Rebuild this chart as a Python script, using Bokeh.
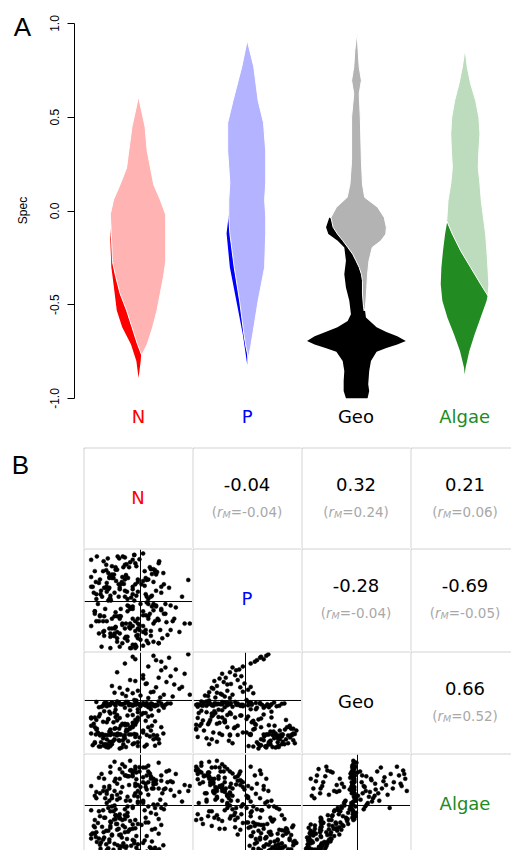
import math
from bokeh.plotting import figure
from bokeh.layouts import column, row
from bokeh.models import Range1d, FixedTicker, PrintfTickFormatter, Span, ColumnDataSource
from bokeh.core.properties import value
from bokeh.embed import file_html
from bokeh.resources import INLINE

# ---------------- data ----------------
variables = ["N", "P", "Geo", "Algae"]
y_ticks = [-1.0, -0.5, 0.0, 0.5, 1.0]
y_label = "Spec"

# violin outlines (density shapes): y level and horizontal offset from the category centre
n_light_y = [0.61, 0.45, 0.32, 0.23, 0.14, 0.06, -0.02, -0.12, -0.27, -0.35, -0.44, -0.53, -0.62, -0.71, -0.77,
             -0.71, -0.62, -0.53, -0.44, -0.35, -0.27, -0.12, -0.02, 0.06, 0.14, 0.23, 0.32, 0.45]
n_light_dx = [0.00, -0.06, -0.09, -0.11, -0.17, -0.23, -0.26, -0.25, -0.24, -0.21, -0.17, -0.11, -0.06, -0.01, 0.03,
              0.08, 0.13, 0.17, 0.20, 0.23, 0.25, 0.25, 0.25, 0.20, 0.14, 0.11, 0.08, 0.06]
n_dark_y = [-0.06, -0.15, -0.30, -0.39, -0.53, -0.62, -0.71, -0.80, -0.89, -0.80, -0.71, -0.62, -0.53, -0.39, -0.30, -0.15]
n_dark_dx = [-0.25, -0.26, -0.25, -0.23, -0.20, -0.15, -0.07, -0.02, 0.00, 0.02, 0.03, 0.00, -0.05, -0.10, -0.15, -0.20]

p_light_y = [0.91, 0.77, 0.59, 0.47, 0.32, 0.15, 0.06, -0.03, -0.12, -0.30, -0.48, -0.66, -0.73, -0.78,
             -0.73, -0.66, -0.48, -0.30, -0.12, -0.03, 0.06, 0.15, 0.32, 0.47, 0.59, 0.77]
p_light_dx = [0.00, -0.05, -0.13, -0.18, -0.18, -0.16, -0.17, -0.17, -0.16, -0.12, -0.07, -0.03, -0.01, 0.01,
              0.03, 0.05, 0.10, 0.16, 0.17, 0.17, 0.16, 0.17, 0.17, 0.15, 0.10, 0.06]
p_dark_y = [-0.02, -0.12, -0.30, -0.48, -0.66, -0.82, -0.66, -0.48, -0.30, -0.12]
p_dark_dx = [-0.17, -0.19, -0.16, -0.10, -0.04, 0.00, 0.00, -0.03, -0.08, -0.12]

geo_light_y = [0.955, 0.857, 0.768, 0.696, 0.625, 0.50, 0.27, 0.144, 0.073, 0.02, -0.034, -0.087, -0.123, -0.159,
               -0.194, -0.23, -0.265, -0.301, -0.337, -0.372, -0.443, -0.515, -0.533,
               -0.515, -0.479, -0.408, -0.337, -0.265, -0.194, -0.159, -0.123, -0.087, -0.034, 0.02, 0.073,
               0.144, 0.27, 0.50, 0.625, 0.696, 0.768, 0.857]
geo_light_dx = [0.01, -0.01, -0.02, -0.04, -0.02, -0.04, -0.04, -0.055, -0.08, -0.18, -0.23, -0.21, -0.17, -0.12,
                -0.075, -0.03, 0.0, 0.03, 0.05, 0.06, 0.06, 0.07, 0.076,
                0.085, 0.092, 0.10, 0.107, 0.12, 0.15, 0.23, 0.275, 0.28, 0.26, 0.20, 0.08,
                0.06, 0.05, 0.04, 0.03, 0.05, 0.03, 0.02]
geo_dark_y = [-0.034, -0.087, -0.123, -0.159, -0.194, -0.265, -0.337, -0.408, -0.479, -0.55, -0.586, -0.62,
              -0.645, -0.668, -0.693, -0.712, -0.73, -0.75, -0.80, -0.853, -0.906, -0.96, -0.999,
              -0.999, -0.96, -0.924, -0.853, -0.80, -0.75, -0.73, -0.712, -0.693, -0.668, -0.645, -0.62,
              -0.568, -0.515, -0.443, -0.372, -0.30, -0.23, -0.159, -0.123, -0.087]
geo_dark_dx = [-0.245, -0.275, -0.254, -0.168, -0.107, -0.092, -0.107, -0.092, -0.061, -0.046, -0.076, -0.17,
               -0.28, -0.38, -0.45, -0.38, -0.28, -0.18, -0.122, -0.107, -0.113, -0.113, -0.092,
               0.107, 0.122, 0.113, 0.122, 0.138, 0.19, 0.28, 0.38, 0.459, 0.38, 0.28, 0.19,
               0.092, 0.08, 0.08, 0.08, 0.07, 0.05, 0.0, -0.05, -0.10]

algae_light_y = [0.866, 0.768, 0.679, 0.589, 0.50, 0.411, 0.322, 0.233, 0.144, 0.055, -0.052, -0.123, -0.212,
                 -0.301, -0.39, -0.452,
                 -0.39, -0.301, -0.212, -0.123, -0.052, 0.055, 0.144, 0.233, 0.322, 0.411, 0.50, 0.589, 0.679, 0.768]
algae_light_dx = [0.003, -0.021, -0.052, -0.092, -0.119, -0.128, -0.122, -0.113, -0.128, -0.153, -0.165, -0.113,
                  -0.037, 0.055, 0.147, 0.214,
                  0.223, 0.214, 0.205, 0.193, 0.177, 0.153, 0.141, 0.125, 0.131, 0.141, 0.131, 0.101, 0.055, 0.024]
algae_dark_y = [-0.052, -0.123, -0.212, -0.301, -0.39, -0.479, -0.568, -0.657, -0.746, -0.835, -0.871,
                -0.835, -0.746, -0.657, -0.568, -0.479, -0.443, -0.39, -0.301, -0.212, -0.123]
algae_dark_dx = [-0.159, -0.18, -0.199, -0.214, -0.22, -0.205, -0.159, -0.098, -0.043, -0.006, 0.0,
                 0.009, 0.043, 0.092, 0.147, 0.202, 0.214, 0.18, 0.10, 0.0, -0.10]

# observations (one entry per sample, same order in every list)
n_vals = [-0.55, -0.78, -0.30, -0.62, -0.85, -0.12, -0.47, 0.25, -0.70, -0.20,
          -0.38, -0.88, 0.05, -0.58, -0.26, -0.66, 0.32, -0.41, -0.05, -0.74,
          -0.51, -0.15, -0.92, 0.18, -0.34, -0.60, -0.08, 0.36, -0.45, -0.80,
          -0.65, -0.28, -0.50, 0.12, -0.72, -0.18, -0.40, 0.22, -0.86, -0.33,
          -0.57, -0.10, -0.68, -0.24, 0.40, -0.44, 0.28, -0.76, -0.02, -0.95,
          -0.35, 0.12, -0.60, -0.05, 0.28, -0.42, -0.18, 0.40, -0.72, 0.05,
          -0.25, -0.50, 0.18, -0.10, -0.65, 0.33, -0.30, -0.02, -0.80, 0.22,
          -0.45, 0.08, -0.15, 0.52, -0.38, -0.55, 0.15, -0.22, 0.00, -0.68,
          0.30, -0.40, -0.08, 0.45, -0.28, 0.10, -0.58, 0.25, -0.12, -0.48,
          -0.70, -0.15, -0.45, 0.20, -0.88, -0.30, 0.05, -0.62, -0.20, -0.52,
          0.15, -0.78, -0.38, -0.05, -0.95, 0.28, -0.48, -0.25, -0.10, -0.58,
          0.25, 0.55, -0.10, 0.40, 0.92, -0.30, 0.15, 0.68, -0.45, 0.05,
          0.35, -0.20, 0.50, 0.10, -0.55, 0.30, 0.75, -0.05, 0.20, -0.35,
          0.45, 0.00, 0.62, -0.25, 0.12, 0.85, -0.15, 0.38,
          -0.60, -0.25, -0.85, -0.10, -0.45, 0.15, -0.70, -0.35, -0.95, -0.05, -0.50, -0.20, 0.10, -0.78,
          -0.42, -0.63, 0.08, -0.82, -0.27, -0.55, 0.30, -0.90, -0.12, -0.36,
          -0.71, 0.20, -0.48, -0.05, -0.60, -0.22, 0.44, -0.77, -0.32, -0.52,
          -0.15, -0.84, 0.12, -0.40, -0.66, 0.35, -0.28, -0.58, -0.08, -0.95,
          0.20, -0.58, -0.10, 0.42, -0.35, -0.75, 0.05, -0.22, -0.48, 0.35,
          -0.65, -0.02, 0.58, -0.30, -0.15, -0.85, 0.10, -0.40, 0.25, -0.55,
          -0.20, 0.15, -0.70, -0.08, 0.48,
          -0.50, 0.10, -0.80, -0.30, 0.35, -0.62, -0.15, 0.02, -0.88, -0.40, -0.05, -0.72, 0.22, -0.25, -0.60,
          -0.15, 0.48, 0.05, 0.65, -0.40, 0.25, 0.95, -0.28, 0.40, -0.10, 0.15, 0.58, -0.50, 0.80, 0.30,
          -0.30, -0.65, 0.05, -0.88, -0.15, -0.48, 0.25, -0.58, -0.05, -0.40]
p_vals = [0.72, 0.45, 0.90, 0.58, 0.15, 0.95, 0.42, 0.66, 0.28, 0.80,
          0.35, 0.62, 0.98, 0.52, 0.20, 0.75, 0.60, 0.88, 0.40, 0.10,
          0.55, 0.85, 0.30, 0.70, 0.92, 0.48, 0.12, 0.82, 0.65, 0.38,
          0.30, 0.52, 0.18, 0.44, 0.62, 0.08, 0.25, 0.56, 0.40, 0.70,
          0.02, 0.78, -0.15, 0.48, 0.30, 0.92, 0.64, 0.22, 0.86, 0.50,
          -0.45, -0.80, 0.05, -0.55, 0.60, 0.10, -0.95, -0.15, -0.62, 0.42,
          -0.20, -0.70, -0.25, -0.88, 0.20, -0.35, 0.75, -0.58, -0.40, 0.12,
          -0.75, 0.32, -0.10, -0.68, -0.30, 0.55, -0.85, -0.52, -0.05, 0.28,
          -0.08, -0.35, -0.92, 0.35, -0.45, 0.48, -0.72, -0.18, 0.02, 0.65,
          -0.60, -0.35, -0.82, 0.10, -0.20, -0.55, -0.90, 0.25, -0.45, -0.70,
          0.05, -0.28, -0.15, -0.75, 0.30, -0.40, -0.52, -0.08, -0.95, -0.65,
          0.40, 0.28, 0.35, 0.18, 0.44, 0.10, -0.05, -0.12, -0.30, -0.20,
          -0.38, -0.15, -0.42, -0.28, -0.55, -0.10, -0.62, -0.35, -0.70, -0.48,
          -0.25, -0.78, -0.40, 0.05, -0.02, -0.45, 0.15, -0.58,
          -0.55, -0.80, -0.40, -0.92, -0.62, -0.35, -0.70, -0.85, -0.50, -0.45, -0.65, -0.95, -0.58, -0.30,
          0.35, 0.88, 0.62, -0.05, 0.76, 0.48, 0.55, 0.18, 0.95, 0.40,
          0.82, 0.66, -0.22, 0.45, 0.28, 0.70, 0.58, 0.15, 0.36, 0.48,
          0.25, 0.92, 0.10, -0.30, 0.64, 0.78, 0.54, 0.06, 0.72, 0.85,
          -0.60, 0.12, -0.40, -0.75, 0.50, -0.92, -0.28, -0.10, 0.70, -0.85,
          0.38, -0.48, -0.58, 0.22, -0.15, 0.05, -0.65, 0.28, -0.82, -0.35,
          -0.55, 0.45, -0.30, -0.70, -0.05,
          -0.30, 0.15, -0.65, 0.45, -0.85, 0.02, -0.50, 0.35, -0.20, -0.92, 0.20, -0.40, -0.10, -0.72, 0.50,
          0.30, -0.25, -0.50, -0.35, -0.65, -0.05, -0.45, -0.72, -0.18, -0.60, -0.30, -0.08, -0.55, 0.10, 0.22,
          -0.75, -0.40, -0.62, -0.25, -0.88, -0.52, -0.45, -0.95, -0.68, -0.32]
geo_vals = [-0.85, -0.70, -0.71, -0.97, -0.60, -0.88, -0.70, -0.80, -0.93, -0.55,
            -0.70, -0.86, -0.62, -0.71, -0.50, -0.90, -0.72, -0.58, -0.94, -0.69,
            -0.70, -0.55, -0.92, -0.74, -0.82, -0.64, -0.45, -0.88, -0.72, -0.95,
            -0.80, -0.96, -0.58, -0.91, -0.78, -0.70, -0.99, -0.52, -0.70, -0.90,
            -0.66, -0.40, -0.71, -0.84, -0.55, -0.68, -0.93, -0.86, -0.76, -0.35,
            -0.08, -0.05, -0.10, -0.07, -0.12, -0.04, -0.09, -0.06, -0.11, -0.08,
            -0.03, -0.07, -0.13, -0.09, -0.05, -0.10, -0.06, -0.08, -0.14, -0.07,
            -0.02, -0.09, -0.11, -0.06, -0.08, -0.04, -0.10, -0.07, -0.12, -0.05,
            -0.09, -0.06, -0.08, -0.15, -0.03, -0.10, -0.07, -0.09, 0.01, -0.11,
            -0.22, -0.30, -0.41, -0.18, -0.35, -0.48, -0.26, -0.39, -0.20, -0.45,
            -0.33, -0.28, -0.52, -0.24, -0.37, -0.43, -0.19, -0.31, -0.50, -0.27,
            0.92, 0.88, 0.85, 0.80, 0.95, 0.76, 0.70, 0.64, 0.58, 0.52,
            0.47, 0.42, 0.38, 0.34, 0.30, 0.27, 0.24, 0.20, 0.17, 0.14,
            0.12, 0.10, 0.08, 0.22, 0.35, 0.55, 0.15, 0.06,
            -0.85, -0.62, -0.40, -0.75, -0.30, -0.55, -0.90, -0.48, -0.68, -0.35, -0.80, -0.58, -0.26, -0.72,
            -0.82, -0.71, -0.95, -0.66, -0.60, -0.90, -0.78, -0.48, -0.69, -0.97,
            -0.72, -0.62, -0.57, -0.86, -0.92, -0.70, -0.68, -0.95, -0.74, -0.83,
            -0.90, -0.58, -0.71, -0.70, -0.96, -0.80, -0.64, -0.94, -0.70, -0.52,
            -0.06, -0.09, -0.04, -0.11, -0.08, -0.13, -0.05, -0.10, -0.07, -0.02,
            -0.12, -0.08, -0.06, -0.15, -0.09, -0.03, -0.10, -0.07, -0.11, -0.05,
            -0.08, -0.14, -0.06, 0.00, -0.09,
            -0.25, -0.42, -0.33, -0.51, -0.21, -0.38, -0.46, -0.29, -0.55, -0.36, -0.18, -0.44, -0.31, -0.49, -0.23,
            0.90, 0.68, 0.45, 0.33, 0.26, 0.18, 0.12, 0.09, 0.62, 0.40, 0.05, 0.50, 0.16, 0.28, 0.83,
            -0.78, -0.45, -0.66, -0.88, -0.52, -0.34, -0.71, -0.60, -0.40, -0.83]
algae_vals = [-0.62, -0.81, -0.45, -0.88, -0.55, -0.73, -0.38, -0.91, -0.66, -0.49,
              -0.84, -0.58, -0.77, -0.33, -0.69, -0.52, -0.93, -0.61, -0.80, -0.44,
              -0.29, -0.71, -0.57, -0.86, -0.41, -0.75, -0.63, -0.90, -0.50, -0.68,
              -0.92, -0.86, -0.79, -0.95, -0.70, -0.83, -0.89, -0.74, -0.65, -0.78,
              -0.35, -0.47, -0.25, -0.54, -0.40, -0.82, -0.87, -0.76, -0.94, -0.60,
              0.85, 0.62, 0.40, 0.18, -0.05, -0.22, 0.73, 0.51, 0.30, 0.08,
              -0.15, 0.90, 0.66, 0.45, 0.24, 0.02, -0.28, 0.79, 0.57, 0.35,
              0.12, -0.10, 0.70, 0.48, 0.27, -0.02, 0.82, 0.60, 0.38, 0.15,
              -0.18, 0.75, 0.54, 0.33, 0.10, -0.25, 0.68, 0.43, 0.20, -0.08,
              -0.25, -0.05, -0.38, -0.15, -0.45, -0.20, 0.05, -0.52, -0.32, -0.12,
              -0.35, -0.22, -0.60, 0.08, -0.10, -0.48, -0.28, -0.02, -0.30, -0.42,
              0.55, 0.72, 0.40, 0.62, 0.30, 0.80, 0.48, 0.65, 0.22, 0.58,
              0.35, 0.10, 0.70, 0.45, 0.15, 0.52, 0.28, 0.05, 0.60, 0.38,
              -0.08, 0.25, 0.48, 0.18, 0.33, 0.42, -0.02, 0.12,
              0.35, 0.60, 0.28, 0.75, 0.45, 0.22, 0.55, 0.68, 0.40, 0.30, 0.50, 0.72, 0.38, 0.25,
              -0.48, -0.90, -0.72, -0.36, -0.84, -0.60, -0.95, -0.42, -0.78, -0.66,
              -0.55, -0.88, -0.20, -0.93, -0.70, -0.51, -0.82, -0.89, -0.85, -0.91,
              -0.39, -0.75, -0.63, -0.27, -0.80, -0.58, -0.94, -0.46, -0.87, -0.68,
              0.55, -0.12, 0.80, 0.25, -0.30, 0.65, 0.10, 0.42, -0.20, 0.88,
              0.05, 0.70, 0.32, -0.08, 0.60, 0.15, 0.78, -0.25, 0.48, 0.20,
              0.92, -0.02, 0.38, 0.68, 0.02,
              0.00, -0.35, -0.12, -0.55, -0.28, -0.05, -0.48, -0.40, -0.30, -0.18, -0.38, -0.10, -0.50, -0.22, 0.10,
              0.65, 0.35, 0.78, 0.20, 0.55, 0.02, 0.40, 0.62, -0.05, 0.25, 0.70, 0.50, 0.30, 0.08, 0.45,
              0.62, 0.30, 0.48, 0.20, 0.70, 0.55, 0.35, 0.80, 0.42, 0.15]

# correlations shown in the upper triangle
cor_pairs = [("N", "P"), ("N", "Geo"), ("N", "Algae"), ("P", "Geo"), ("P", "Algae"), ("Geo", "Algae")]
cor_values = [-0.04, 0.32, 0.21, -0.28, -0.69, 0.66]
rm_values = [-0.04, 0.24, 0.06, -0.04, -0.05, 0.52]

# ---------------- styles ----------------
DARK = ["#ff0000", "#0000ff", "#000000", "#228b22"]
LIGHT = ["#ffb3b3", "#b3b3ff", "#b3b3b3", "#bddcbd"]
GRID = "#a8a8a8"
RM_COLOR = "#a8a8a8"
SANS = "DejaVu Sans"
HELV = "Liberation Sans"


def blank_fig(w, h, **kw):
    return figure(width=w, height=h, x_range=Range1d(0, w), y_range=Range1d(0, h),
                  x_axis_type=None, y_axis_type=None, toolbar_location=None, output_backend="svg",
                  min_border=0, outline_line_color=None, background_fill_color="white",
                  border_fill_color="white", **kw)


# ---------------- panel A ----------------
pL = blank_fig(36, 447)
pL.text(x=[22], y=[421], text=["A"], text_font=value(HELV), text_font_size="26px",
        text_align="center", text_baseline="middle", text_color="black")
pL.text(x=[22], y=[237], text=[y_label], angle=math.pi / 2, text_font=value(HELV), text_font_size="12px",
        text_align="center", text_baseline="middle", text_color="black")

pA = figure(width=475, height=447, x_range=Range1d(0.411, 4.431), y_range=Range1d(-1.26133, 1.12267),
            x_axis_type=None, toolbar_location=None, output_backend="svg",
            min_border_left=38, min_border_right=0, min_border_top=0, min_border_bottom=0,
            outline_line_color=None, background_fill_color="white", border_fill_color="white")
pA.ygrid.visible = False
ax = pA.yaxis[0]
ax.ticker = FixedTicker(ticks=y_ticks)
ax.formatter = PrintfTickFormatter(format="%.1f")
ax.bounds = (-1, 1)
ax.major_label_orientation = "vertical"
ax.major_tick_out = 7
ax.major_tick_in = 0
ax.minor_tick_out = 0
ax.minor_tick_in = 0
ax.major_label_standoff = 8
ax.major_label_text_font = HELV
ax.major_label_text_font_size = "12px"
ax.major_label_text_color = "black"
ax.axis_line_color = "black"
ax.major_tick_line_color = "black"

shapes = [(n_dark_y, n_dark_dx, n_light_y, n_light_dx),
          (p_dark_y, p_dark_dx, p_light_y, p_light_dx),
          (geo_dark_y, geo_dark_dx, geo_light_y, geo_light_dx),
          (algae_dark_y, algae_dark_dx, algae_light_y, algae_light_dx)]
for k, (dy, ddx, ly, ldx) in enumerate(shapes):
    c = k + 1
    pA.patch(x=[c + d for d in ddx], y=dy, fill_color=DARK[k], line_color=None)
    pA.patch(x=[c + d for d in ldx], y=ly, fill_color=LIGHT[k], line_color="white", line_width=1)

pA.text(x=[1, 2, 3, 4], y=[-1.096] * 4, text=variables, text_color=DARK,
        text_font=value(SANS), text_font_size="18px", text_align="center", text_baseline="middle")

# ---------------- panel B ----------------
pB = blank_fig(83, 403)
pB.text(x=[20], y=[386], text=["B"], text_font=value(HELV), text_font_size="26px",
        text_align="center", text_baseline="middle", text_color="black")

COL_W = [109, 109, 109, 101]
ROW_H = [101, 103, 102, 97]
FULL_H = [101, 103, 102, 102]
CX = 53.5
x_lims = {"N": (-1.0785, 1.0015), "P": (-1.0015, 1.0785), "Geo": (-1.059, 1.021)}
y_lims = {"P": (-1.019, 1.061), "Geo": (-1.092, 0.988), "Algae": (-1.030, 1.050)}

CW = {'(': 0.390, ')': 0.390, '=': 0.838, '-': 0.361, '.': 0.318, 'r': 0.411, 'M': 0.863}


def tw(s, size):
    return size * sum(CW.get(ch, 0.636) for ch in s)


def cell_fig(w, h, xr, yr):
    return figure(width=w, height=h, x_range=xr, y_range=yr, x_axis_type=None, y_axis_type=None,
                  toolbar_location=None, output_backend="svg",
                  min_border_left=1, min_border_top=1, min_border_right=0, min_border_bottom=0,
                  border_fill_color=GRID, background_fill_color="white", outline_line_color=None)


src = ColumnDataSource(dict(N=n_vals, P=p_vals, Geo=geo_vals, Algae=algae_vals))
cor_lookup = {pair: (cv, rv) for pair, cv, rv in zip(cor_pairs, cor_values, rm_values)}

grid_rows = []
for i in range(4):
    cells = []
    for j in range(4):
        w, h = COL_W[j], ROW_H[i]
        if i > j:
            lo, hi = y_lims[variables[i]]
            lo_vis = hi - (hi - lo) * (h - 1) / (FULL_H[i] - 1)
            f = cell_fig(w, h, Range1d(*x_lims[variables[j]]), Range1d(lo_vis, hi))
            f.scatter(x=variables[j], y=variables[i], source=src, size=4,
                      fill_color="black", line_color="black", line_width=0.5)
            f.add_layout(Span(location=0, dimension="width", line_color="black", line_width=1))
            f.add_layout(Span(location=0, dimension="height", line_color="black", line_width=1))
        else:
            f = cell_fig(w, h, Range1d(0, w - 1), Range1d(0, h - 1))
            if i == j:
                f.text(x=[CX], y=[h - 50], text=[variables[i]], text_color=DARK[i],
                       text_font=value(SANS), text_font_size="18px", text_align="center", text_baseline="middle")
            else:
                cv, rv = cor_lookup[(variables[i], variables[j])]
                f.text(x=[CX], y=[h - 37], text=["%.2f" % cv], text_color="black",
                       text_font=value(SANS), text_font_size="18px", text_align="center", text_baseline="middle")
                FS, FSUB = 13.5, 9.5
                pieces = [("(", "normal", FS, 0), ("r", "italic", FS, 0), ("M", "italic", FSUB, 3),
                          ("=" + ("%.2f" % rv) + ")", "normal", FS, 0)]
                total = sum(tw(t, s) for t, _, s, _ in pieces)
                off = -total / 2
                for t, style, s, dyo in pieces:
                    f.text(x=[CX], y=[h - 64], text=[t], x_offset=off, y_offset=dyo,
                           text_font=value(SANS), text_font_style=style, text_font_size="%gpx" % s,
                           text_color=RM_COLOR, text_align="left", text_baseline="middle")
                    off += tw(t, s)
        cells.append(f)
    grid_rows.append(row(*cells))

layout = column(row(pL, pA), row(pB, column(*grid_rows)))
open("out.html", "w").write(file_html(layout, INLINE))
